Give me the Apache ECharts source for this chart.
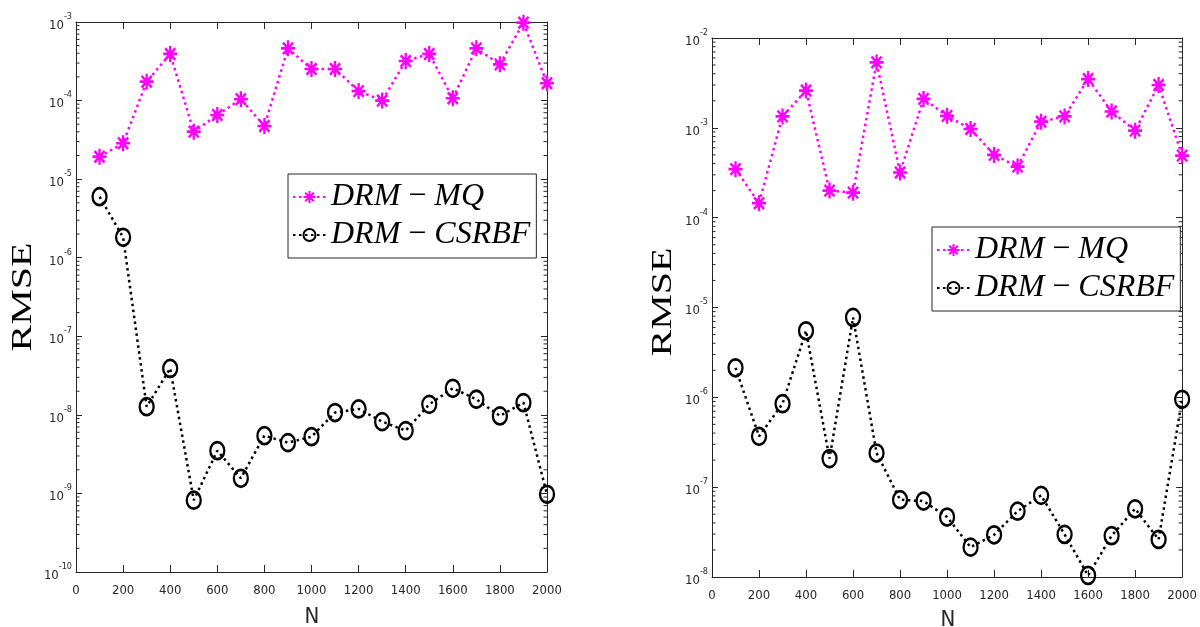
<!DOCTYPE html>
<html>
<head>
<meta charset="utf-8">
<script src="https://cdn.jsdelivr.net/npm/echarts@6/dist/echarts.min.js"></script>
<style>html,body{margin:0;padding:0;background:#fff}#c{width:1200px;height:627px}</style>
</head>
<body>
<div id="c"></div>
<script>
// ---- data ----
const N = [100,200,300,400,500,600,700,800,900,1000,1100,1200,1300,1400,1500,1600,1700,1800,1900,2000];
const leftMQ = [1.93e-5,2.86e-5,1.74e-4,3.92e-4,4.02e-5,6.55e-5,1.04e-4,4.75e-5,4.62e-4,2.52e-4,2.52e-4,1.32e-4,1.0e-4,3.19e-4,3.92e-4,1.07e-4,4.62e-4,2.89e-4,9.8e-4,1.66e-4];
const leftCS = [5.98e-6,1.82e-6,1.27e-8,3.9e-8,8.2e-10,3.5e-9,1.56e-9,5.43e-9,4.43e-9,5.27e-9,1.07e-8,1.19e-8,8.2e-9,6.3e-9,1.36e-8,2.18e-8,1.58e-8,9.7e-9,1.43e-8,9.75e-10];
const rightMQ = [3.47e-4,1.45e-4,1.34e-3,2.6e-3,2.0e-4,1.9e-4,5.35e-3,3.18e-4,2.1e-3,1.36e-3,9.7e-4,5.0e-4,3.7e-4,1.17e-3,1.34e-3,3.49e-3,1.52e-3,9.3e-4,3.0e-3,4.9e-4];
const rightCS = [2.13e-6,3.68e-7,8.5e-7,5.5e-6,2.08e-7,7.76e-6,2.4e-7,7.25e-8,7.0e-8,4.65e-8,2.15e-8,2.95e-8,5.4e-8,8.1e-8,2.98e-8,1.04e-8,2.88e-8,5.75e-8,2.62e-8,9.5e-7];
const seriesNames = ['DRM-MQ','DRM-CSRBF'];
const legendLabels = {'DRM-MQ':['DRM','MQ'],'DRM-CSRBF':['DRM','CSRBF']};
const leftDecades = [-10,-9,-8,-7,-6,-5,-4,-3];
const rightDecades = [-8,-7,-6,-5,-4,-3,-2];
const minorMult = [2,3,4,5,6,7,8,9];
const xTicks = {min:0,max:2000,interval:200};
const yLabel = 'RMSE', xLabel = 'N';

// ---- styles ----
const AX = '#262626';
const MAG = '#ff00ff';
const starPath = 'path://M0,-1L0,1M-1,0L1,0M-0.72,-0.72L0.72,0.72M-0.72,0.72L0.72,-0.72';
const tickFont = "'DejaVu Sans Condensed','Liberation Sans Narrow','Liberation Sans',sans-serif";

function minorData(decs){
  const out=[];
  for(let i=0;i<decs.length-1;i++) for(const k of minorMult) out.push([0,k*Math.pow(10,decs[i])]);
  return out;
}
function pairs(ys){ return N.map((n,i)=>[n,ys[i]]); }

const grids = [
  {left:76, top:22, right:653, bottom:55},
  {left:712, top:38, right:12, bottom:50}
];
const lineCfg = {show:true,onZero:false,lineStyle:{color:AX,width:1}};
const tickCfg = len=>({show:true,inside:true,length:len,lineStyle:{color:AX,width:1}});

const xAxes=[], yAxes=[], series=[];
[0,1].forEach(g=>{
  xAxes.push({gridIndex:g,type:'value',min:xTicks.min,max:xTicks.max,interval:xTicks.interval,position:'bottom',
    axisLine:lineCfg,axisTick:tickCfg(7),
    axisLabel:{color:AX,fontFamily:tickFont,fontSize:13,margin:12,formatter:v=>String(v)},splitLine:{show:false}});
  xAxes.push({gridIndex:g,type:'value',min:xTicks.min,max:xTicks.max,interval:xTicks.interval,position:'top',
    axisLine:lineCfg,axisTick:tickCfg(7),axisLabel:{show:false},splitLine:{show:false}});
  const decs = g===0?leftDecades:rightDecades;
  const lab = {show:true,color:AX,margin:4,
    formatter:v=>'{b|10}{s|'+Math.round(Math.log10(v))+'}',
    rich:{b:{fontFamily:tickFont,fontSize:13,color:AX,verticalAlign:'bottom',lineHeight:20},
          s:{fontFamily:tickFont,fontSize:9,color:AX,verticalAlign:'top',lineHeight:10}}};
  yAxes.push({gridIndex:g,type:'log',logBase:10,min:Math.pow(10,decs[0]),max:Math.pow(10,decs[decs.length-1]),
    splitNumber:decs.length-1,position:'left',
    axisLine:lineCfg,axisTick:tickCfg(6),axisLabel:lab,splitLine:{show:false}});
  yAxes.push({gridIndex:g,type:'log',logBase:10,min:Math.pow(10,decs[0]),max:Math.pow(10,decs[decs.length-1]),
    splitNumber:decs.length-1,position:'right',
    axisLine:lineCfg,axisTick:tickCfg(6),axisLabel:{show:false},splitLine:{show:false}});
  const xi=g*2, yi=g*2;
  series.push({type:'custom',xAxisIndex:xi,yAxisIndex:yi,silent:true,data:minorData(decs),clip:false,
    renderItem:(params,api)=>{
      const p=api.coord([0,api.value(1)]); const cs=params.coordSys; const L=3.5;
      return {type:'group',children:[
        {type:'line',shape:{x1:cs.x,y1:p[1],x2:cs.x+L,y2:p[1]},style:{stroke:AX,lineWidth:1}},
        {type:'line',shape:{x1:cs.x+cs.width-L,y1:p[1],x2:cs.x+cs.width,y2:p[1]},style:{stroke:AX,lineWidth:1}}
      ]};
    }});
  series.push({name:seriesNames[0],type:'line',xAxisIndex:xi,yAxisIndex:yi,clip:false,
    data:pairs(g===0?leftMQ:rightMQ),symbol:starPath,symbolSize:[14,16],
    lineStyle:{color:MAG,width:2.5,type:[2.5,3.5]},
    itemStyle:{color:MAG,borderColor:MAG,borderWidth:2.5},z:3});
  series.push({name:seriesNames[1],type:'line',xAxisIndex:xi,yAxisIndex:yi,clip:false,
    data:pairs(g===0?leftCS:rightCS),symbol:'circle',symbolSize:[14,17],
    lineStyle:{color:'#000',width:2.5,type:[2.5,3.5]},
    itemStyle:{color:'rgba(0,0,0,0)',borderColor:'#000',borderWidth:2.5},z:3});
});

const legendRich = {
  i:{fontFamily:"'Liberation Serif',serif",fontStyle:'italic',fontSize:32,lineHeight:40,color:'#000'},
  m:{fontFamily:"'Liberation Serif',serif",fontSize:32,lineHeight:40,color:'#000'}
};
function legendCfg(left,top){
  return {left:left,top:top,orient:'vertical',data:seriesNames,itemWidth:33,itemHeight:15,itemGap:6,
    padding:[7,6,7,4],borderColor:AX,borderWidth:1,backgroundColor:'#fff',selectedMode:false,
    formatter:n=>'{i|'+legendLabels[n][0]+'}{m| \u2212 }{i|'+legendLabels[n][1]+'}',
    textStyle:{rich:legendRich}};
}

const titleStyle = {fontFamily:"'Liberation Serif',serif",fontSize:40,fill:'#000'};
const nStyle = {fontFamily:tickFont,fontSize:22,fill:AX};
const option = {
  animation:false,
  backgroundColor:'#fff',
  grid:grids,
  xAxis:xAxes,
  yAxis:yAxes,
  legend:[legendCfg(288,174),legendCfg(932,227)],
  series:series,
  graphic:[
    {type:'text',x:23,y:297,rotation:Math.PI/2,scaleX:1,scaleY:0.75,style:Object.assign({text:yLabel,align:'center',verticalAlign:'middle'},titleStyle)},
    {type:'text',x:663,y:302,rotation:Math.PI/2,scaleX:1,scaleY:0.75,style:Object.assign({text:yLabel,align:'center',verticalAlign:'middle'},titleStyle)},
    {type:'text',x:312,y:617,style:Object.assign({text:xLabel,align:'center',verticalAlign:'middle'},nStyle)},
    {type:'text',x:948,y:620,style:Object.assign({text:xLabel,align:'center',verticalAlign:'middle'},nStyle)}
  ]
};
const chart = echarts.init(document.getElementById('c'),null,{renderer:'canvas'});
chart.setOption(option);
</script>
</body>
</html>
